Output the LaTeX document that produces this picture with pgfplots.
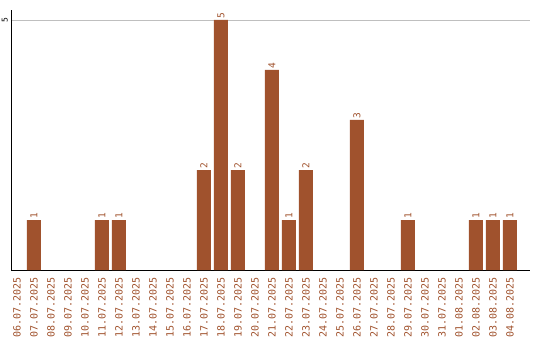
\documentclass[border=0pt]{standalone}
\usepackage{pgfplots}
\pgfplotsset{compat=1.18}
\usepackage{fontspec}
\setmainfont{DejaVu Sans Mono}
\definecolor{bar}{HTML}{A0522D}
\begin{document}
\begin{tikzpicture}
\begin{axis}[
  name=ax,
  scale only axis,
  width=519pt, height=260pt,
  xmin=-0.35, xmax=30.18,
  ymin=0, ymax=5.2,
  axis x line=bottom, axis y line=left,
  axis line style={-, black, line width=0.8pt},
  xtick={0,...,29},
  xticklabels={06.07.2025,07.07.2025,08.07.2025,09.07.2025,10.07.2025,11.07.2025,12.07.2025,13.07.2025,14.07.2025,15.07.2025,16.07.2025,17.07.2025,18.07.2025,19.07.2025,20.07.2025,21.07.2025,22.07.2025,23.07.2025,24.07.2025,25.07.2025,26.07.2025,27.07.2025,28.07.2025,29.07.2025,30.07.2025,31.07.2025,01.08.2025,02.08.2025,03.08.2025,04.08.2025},
  xticklabel style={rotate=90, anchor=east, font=\fontsize{10}{11}\selectfont, text=bar, inner sep=0pt, xshift=0pt},
  major tick length=0pt,
  xticklabel shift=7pt,
  ytick={5},
  yticklabel style={rotate=90, anchor=south, font=\fontsize{8}{9}\selectfont, inner sep=0pt},
  yticklabel shift=3pt,
  /pgf/number format/assume math mode=true,
  ymajorgrids, grid style={gray!50, line width=0.8pt},
  ybar, bar width=14pt,
  nodes near coords,
  nodes near coords style={rotate=90, anchor=west, font=\fontsize{9.5}{10}\selectfont, text=bar, inner sep=1.5pt},
  clip=false,
]
\addplot[fill=bar, draw=none] coordinates {
(1,1) (5,1) (6,1) (11,2) (12,5) (13,2) (15,4) (16,1) (17,2) (20,3) (23,1) (27,1) (28,1) (29,1)
};
\end{axis}
\pgfresetboundingbox
\path ([xshift=-11pt,yshift=-70pt]ax.south west) rectangle ([xshift=10pt,yshift=10pt]ax.north east);
\end{tikzpicture}
\end{document}
